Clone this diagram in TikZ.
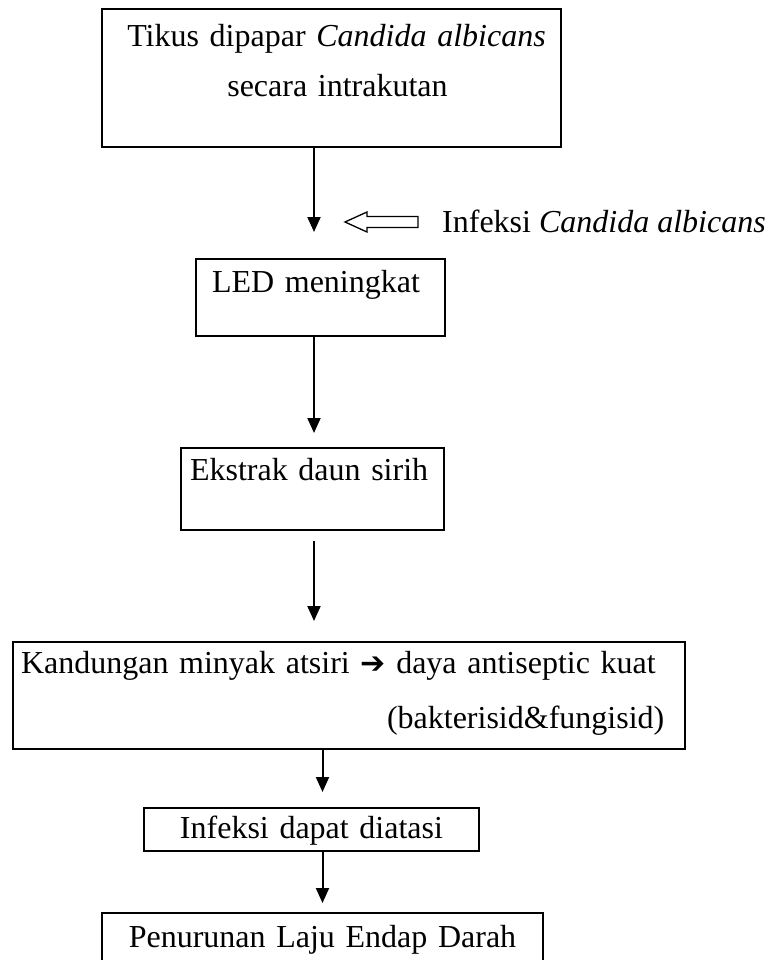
\documentclass[tikz,border=0pt]{standalone}
\usepackage{fontspec}
\setmainfont{Liberation Serif}
\newfontfamily\simbol{DejaVu Sans}
\usetikzlibrary{arrows.meta}
\begin{document}
\begin{tikzpicture}
    \tikzset{kotak/.style={draw,line width=2pt,inner sep=0pt,font=\fontsize{32}{50}\selectfont},
      kiri/.style={kotak,align=left},tengah/.style={kotak,align=center},
      panah/.style={->,>={Triangle[length=15pt,width=13pt]},line width=2pt},
      node distance=200pt}
    \useasboundingbox (0,0) rectangle (767pt,-960pt);
    \node[tengah,text width=459pt,text height=37.5pt,text depth=100.5pt] (tk)
    at (331.5pt,-78pt) {\hspace*{10pt}Tikus dipapar \textit{Candida albicans}\\ \hspace*{12pt}secara intrakutan};
    \node[kiri,inner xsep=16pt,text width=217pt,text height=33pt,text depth=44pt]
    (led) [below of=tk,xshift=-11pt,yshift=-19.5pt] {LED meningkat};
    \node[kiri,inner xsep=9pt,text width=245pt,text height=32.5pt,text depth=49.5pt]
    (eks) [below of=led,xshift=-8pt,yshift=8.5pt] {Ekstrak daun sirih};
    \node[kiri,inner xsep=8pt,text width=656pt,text height=31.5pt,text depth=75.5pt]
    (kand) [below of=eks,xshift=36.5pt,yshift=-6.5pt]
    {Kandungan minyak atsiri {\simbol\fontsize{30}{30}\selectfont ➔} daya antiseptic kuat\\[5pt]
      \hspace*{366pt}(bakterisid\&fungisid)};
    \node[tengah,text width=335pt,text height=30.5pt,text depth=12.5pt] (inf)
    [below of=kand,xshift=-37.5pt,yshift=66pt] {Infeksi dapat diatasi};
    \node[tengah,text width=441pt,text height=34.5pt,text depth=19.5pt] (pld)
    [below of=inf,xshift=11pt,yshift=89.5pt] {Penurunan Laju Endap Darah};

    \node[font=\fontsize{32}{50}\selectfont,inner sep=0pt,anchor=base west] (lbl)
    at (442pt,-232pt) {Infeksi \textit{Candida albicans}};
    \coordinate (c1) at (314pt,-232pt);
    \coordinate (ujung) at (345pt,-222pt);

    \draw[panah] (tk.south -| c1) -- (c1);
    \draw[panah,shorten >=14pt] (led.south -| c1) -- (eks.north -| c1);
    \draw[panah,shorten <=10pt,shorten >=20pt] (eks.south -| c1) -- (kand.north -| c1);
    \draw[panah,shorten >=15pt] (kand.south -| pld) -- (inf.north -| pld);
    \draw[panah,shorten >=9pt] (inf.south -| pld) -- (pld.north);
    \draw[line width=1.3pt] (ujung) -- ++(22pt,10pt) -- ++(0,-4.5pt) -- ++(51pt,0)
    -- ++(0,-11pt) -- ++(-51pt,0) -- ++(0,-4.5pt) -- cycle;

  \end{tikzpicture}
\end{document}
